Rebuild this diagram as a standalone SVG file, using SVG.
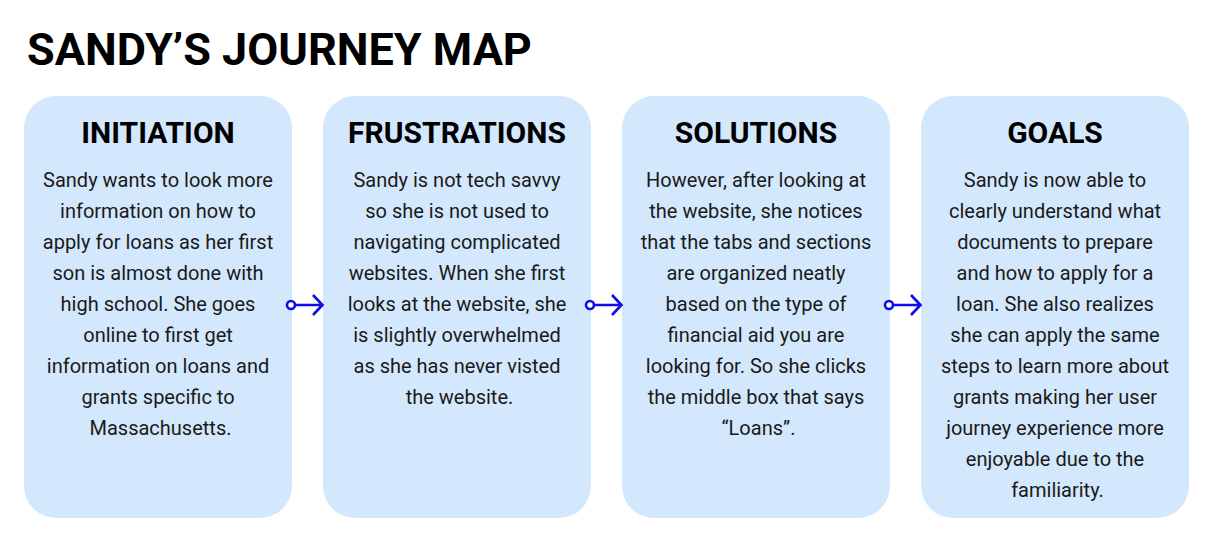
<svg xmlns="http://www.w3.org/2000/svg" width="1212" height="539" viewBox="0 0 1212 539">
  <style>
    .card { fill: #d3e8fc; }
    .title { font-family: Roboto, "Liberation Sans", sans-serif; font-weight: 700; font-size: 45px; fill: #000; }
    .head { font-family: Roboto, "Liberation Sans", sans-serif; font-weight: 700; font-size: 30px; fill: #000; text-anchor: middle; }
    .body { font-family: Roboto, "Liberation Sans", sans-serif; font-size: 20px; fill: #1a1a1a; text-anchor: middle; }
    .conn { stroke: #0d0de8; stroke-width: 2.6; fill: none; }
    .dot { stroke: #0d0de8; stroke-width: 2.6; fill: #fff; }
  </style>
  <rect width="1212" height="539" fill="#fff"/>
  <text class="title" x="27" y="65">SANDY’S JOURNEY MAP</text>

  <g id="initiation">
    <rect class="card" x="24" y="96" width="268" height="422" rx="32"/>
    <text class="head" x="158" y="143">INITIATION</text>
    <text class="body" x="160.5" y="187">
      <tspan x="160.5" dy="0">Sandy wants to look more</tspan>
      <tspan x="160.5" dy="31">information on how to</tspan>
      <tspan x="160.5" dy="31">apply for loans as her first</tspan>
      <tspan x="160.5" dy="31">son is almost done with</tspan>
      <tspan x="160.5" dy="31">high school. She goes</tspan>
      <tspan x="160.5" dy="31">online to first get</tspan>
      <tspan x="160.5" dy="31">information on loans and</tspan>
      <tspan x="160.5" dy="31">grants specific to</tspan>
      <tspan x="160.5" dy="31">Massachusetts.</tspan>
    </text>
  </g>

  <g id="frustrations">
    <rect class="card" x="323" y="96" width="268" height="422" rx="32"/>
    <text class="head" x="457" y="143">FRUSTRATIONS</text>
    <text class="body" x="459.5" y="187">
      <tspan x="459.5" dy="0">Sandy is not tech savvy</tspan>
      <tspan x="459.5" dy="31">so she is not used to</tspan>
      <tspan x="459.5" dy="31">navigating complicated</tspan>
      <tspan x="459.5" dy="31">websites. When she first</tspan>
      <tspan x="459.5" dy="31">looks at the website, she</tspan>
      <tspan x="459.5" dy="31">is slightly overwhelmed</tspan>
      <tspan x="459.5" dy="31">as she has never visted</tspan>
      <tspan x="459.5" dy="31">the website.</tspan>
    </text>
  </g>

  <g id="solutions">
    <rect class="card" x="622" y="96" width="268" height="422" rx="32"/>
    <text class="head" x="756" y="143">SOLUTIONS</text>
    <text class="body" x="758.5" y="187">
      <tspan x="758.5" dy="0">However, after looking at</tspan>
      <tspan x="758.5" dy="31">the website, she notices</tspan>
      <tspan x="758.5" dy="31">that the tabs and sections</tspan>
      <tspan x="758.5" dy="31">are organized neatly</tspan>
      <tspan x="758.5" dy="31">based on the type of</tspan>
      <tspan x="758.5" dy="31">financial aid you are</tspan>
      <tspan x="758.5" dy="31">looking for. So she clicks</tspan>
      <tspan x="758.5" dy="31">the middle box that says</tspan>
      <tspan x="758.5" dy="31">“Loans”.</tspan>
    </text>
  </g>

  <g id="goals">
    <rect class="card" x="921" y="96" width="268" height="422" rx="32"/>
    <text class="head" x="1055" y="143">GOALS</text>
    <text class="body" x="1057.5" y="187">
      <tspan x="1057.5" dy="0">Sandy is now able to</tspan>
      <tspan x="1057.5" dy="31">clearly understand what</tspan>
      <tspan x="1057.5" dy="31">documents to prepare</tspan>
      <tspan x="1057.5" dy="31">and how to apply for a</tspan>
      <tspan x="1057.5" dy="31">loan. She also realizes</tspan>
      <tspan x="1057.5" dy="31">she can apply the same</tspan>
      <tspan x="1057.5" dy="31">steps to learn more about</tspan>
      <tspan x="1057.5" dy="31">grants making her user</tspan>
      <tspan x="1057.5" dy="31">journey experience more</tspan>
      <tspan x="1057.5" dy="31">enjoyable due to the</tspan>
      <tspan x="1057.5" dy="31">familiarity.</tspan>
    </text>
  </g>

  <g id="connectors">
    <path class="conn" d="M295 305 H322 M313 295 L322.5 305 L313 315"/>
    <circle class="dot" cx="291" cy="305" r="4"/>
    <path class="conn" d="M594 305 H621 M612 295 L621.5 305 L612 315"/>
    <circle class="dot" cx="590" cy="305" r="4"/>
    <path class="conn" d="M893 305 H920 M911 295 L920.5 305 L911 315"/>
    <circle class="dot" cx="889" cy="305" r="4"/>
  </g>
</svg>
